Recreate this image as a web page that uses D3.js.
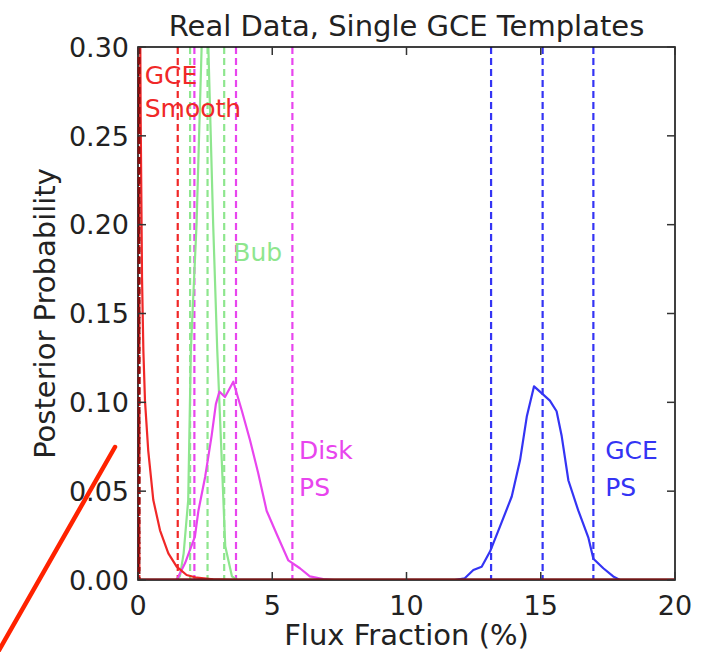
<!DOCTYPE html>
<html><head><meta charset="utf-8">
<script src="https://cdn.jsdelivr.net/npm/d3@7"></script>
<style>body{margin:0;background:#fff;} svg{display:block;font-family:"DejaVu Sans",sans-serif;}</style>
</head><body>
<svg id="c" width="709" height="652"></svg>
<script>
const xTicks = [0, 5, 10, 15, 20];
const yTicks = [0.00, 0.05, 0.10, 0.15, 0.20, 0.25, 0.30];
const yTickLabels = ["0.00","0.05","0.10","0.15","0.20","0.25","0.30"];

// GCE Smooth posterior (red)
const smoothX = [0, 0.05, 0.1, 0.15, 0.2, 0.26, 0.38, 0.57, 0.82, 1.13, 1.44, 1.81, 2.19, 2.8, 3.5, 20];
const smoothY = [0.60, 0.40, 0.26, 0.17, 0.129, 0.101, 0.073, 0.045, 0.028, 0.015, 0.0075, 0.0028, 0.0013, 0.0004, 0, 0];
// Bubbles posterior (light green)
const bubX = [0, 1.4, 1.56, 1.7, 1.87, 1.97, 2.18, 2.37, 2.46, 2.54, 2.62, 2.8, 2.95, 3.18, 3.25, 3.5, 3.7, 20];
const bubY = [0, 0, 0.002, 0.015, 0.045, 0.13, 0.20, 0.30, 0.35, 0.35, 0.30, 0.20, 0.13, 0.045, 0.019, 0.002, 0, 0];
// Disk PS posterior (magenta)
const diskX = [0, 1.44, 1.75, 2.12, 2.25, 2.5, 2.74, 2.9, 3.03, 3.24, 3.55, 3.86, 4.17, 4.48, 4.79, 5.16, 5.6, 6.03, 6.4, 6.9, 7.3, 20];
const diskY = [0, 0, 0.0094, 0.0244, 0.039, 0.058, 0.081, 0.099, 0.106, 0.103, 0.1116, 0.0957, 0.0788, 0.060, 0.039, 0.026, 0.011, 0.0066, 0.002, 0.0005, 0, 0];
// GCE PS posterior (blue)
const psX = [0, 11.8, 12.17, 12.49, 12.8, 13.11, 13.48, 13.92, 14.23, 14.48, 14.75, 14.97, 15.34, 15.59, 15.78, 16.03, 16.4, 16.77, 16.96, 17.33, 17.7, 17.95, 20];
const psY = [0, 0, 0.001, 0.0056, 0.0075, 0.016, 0.03, 0.047, 0.0675, 0.092, 0.109, 0.106, 0.101, 0.095, 0.081, 0.056, 0.039, 0.024, 0.012, 0.0066, 0.002, 0, 0];

// credible interval markers (dashed lines): lower, median, upper
const smoothLines = [0, 0.05, 1.48];
const bubLines = [1.94, 2.59, 3.21];
const diskLines = [2.10, 3.65, 5.75];
const psLines = [13.15, 15.07, 16.96];

const colors = {smooth:"#f02828", bub:"#8ee68e", disk:"#e845ee", ps:"#3434f4"};

const svg = d3.select("#c");
const m = {l:138, r:675, t:47, b:580};
const x = d3.scaleLinear().domain([0,20]).range([m.l, m.r]);
const y = d3.scaleLinear().domain([0,0.30]).range([m.b, m.t]);

svg.append("defs").append("clipPath").attr("id","clip")
  .append("rect").attr("x",m.l).attr("y",m.t).attr("width",m.r-m.l).attr("height",m.b-m.t);

const g = svg.append("g").attr("clip-path","url(#clip)");

function vlines(vals, col){
  g.selectAll(null).data(vals).enter().append("line")
    .attr("x1",d=>x(d)).attr("x2",d=>x(d)).attr("y1",m.t).attr("y2",m.b)
    .attr("stroke",col).attr("stroke-width",2.2).attr("stroke-dasharray","7,4");
}
function curve(xs, ys, col){
  const pts = xs.map((v,i)=>[v, ys[i]]);
  g.append("path").datum(pts)
    .attr("d", d3.line().x(d=>x(d[0])).y(d=>y(d[1])))
    .attr("fill","none").attr("stroke",col).attr("stroke-width",2.2).attr("stroke-linejoin","round");
}

vlines(psLines, colors.ps);
vlines(diskLines, colors.disk);
vlines(bubLines, colors.bub);
vlines(smoothLines, colors.smooth);
curve(psX, psY, colors.ps);
curve(bubX, bubY, colors.bub);
curve(diskX, diskY, colors.disk);
curve(smoothX, smoothY, colors.smooth);

// axes (inside ticks, all four sides)
const tl = 8;
const ax = svg.append("g");
ax.append("rect").attr("x",m.l).attr("y",m.t).attr("width",m.r-m.l).attr("height",m.b-m.t)
  .attr("fill","none").attr("stroke","#111").attr("stroke-width",1.6);
ax.append("line").attr("x1",m.l+1).attr("x2",m.l+1).attr("y1",m.t).attr("y2",m.b)
  .attr("stroke","#8a1010").attr("stroke-width",3).attr("stroke-dasharray","7,3");
ax.append("line").attr("x1",m.l).attr("x2",m.r).attr("y1",m.b-1).attr("y2",m.b-1)
  .attr("stroke","#7a1a1a").attr("stroke-width",1.5);

xTicks.forEach(t=>{
  ax.append("line").attr("x1",x(t)).attr("x2",x(t)).attr("y1",m.b).attr("y2",m.b-tl).attr("stroke","#333").attr("stroke-width",1.5);
  ax.append("line").attr("x1",x(t)).attr("x2",x(t)).attr("y1",m.t).attr("y2",m.t+tl).attr("stroke","#333").attr("stroke-width",1.5);
  ax.append("text").attr("x",x(t)).attr("y",m.b+35).attr("text-anchor","middle")
    .attr("font-size",27).attr("fill","#222").text(t);
});
yTicks.forEach((t,i)=>{
  ax.append("line").attr("x1",m.l).attr("x2",m.l+tl).attr("y1",y(t)).attr("y2",y(t)).attr("stroke","#333").attr("stroke-width",1.5);
  ax.append("line").attr("x1",m.r).attr("x2",m.r-tl).attr("y1",y(t)).attr("y2",y(t)).attr("stroke","#333").attr("stroke-width",1.5);
  ax.append("text").attr("x",m.l-9).attr("y",y(t)).attr("dy","0.36em").attr("text-anchor","end")
    .attr("font-size",27).attr("fill","#222").text(yTickLabels[i]);
});

// titles
svg.append("text").attr("x",(m.l+m.r)/2).attr("y",36).attr("text-anchor","middle")
  .attr("font-size",29).attr("fill","#222").text("Real Data, Single GCE Templates");
svg.append("text").attr("x",(m.l+m.r)/2).attr("y",645).attr("text-anchor","middle")
  .attr("font-size",29).attr("fill","#222").text("Flux Fraction (%)");
svg.append("text").attr("transform","translate(55,"+((m.t+m.b)/2)+") rotate(-90)")
  .attr("text-anchor","middle").attr("font-size",29).attr("fill","#222").text("Posterior Probability");

// component labels
function lab(xv, yPix, gap, lines, col){
  lines.forEach((s,i)=>{
    svg.append("text").attr("x",x(xv)).attr("y",yPix+i*gap).attr("dy","0.36em")
      .attr("font-size",25).attr("fill",col).text(s);
  });
}
lab(0.25, 75, 33, ["GCE","Smooth"], colors.smooth);
lab(3.55, 252, 0, ["Bub"], colors.bub);
lab(6.0, 450, 37, ["Disk","PS"], colors.disk);
lab(17.4, 450, 37, ["GCE","PS"], colors.ps);

// red annotation stroke
svg.append("line").attr("x1",115).attr("y1",447).attr("x2",-2).attr("y2",652)
  .attr("stroke","#ff2200").attr("stroke-width",4.5).attr("stroke-linecap","round");
</script>
</body></html>
